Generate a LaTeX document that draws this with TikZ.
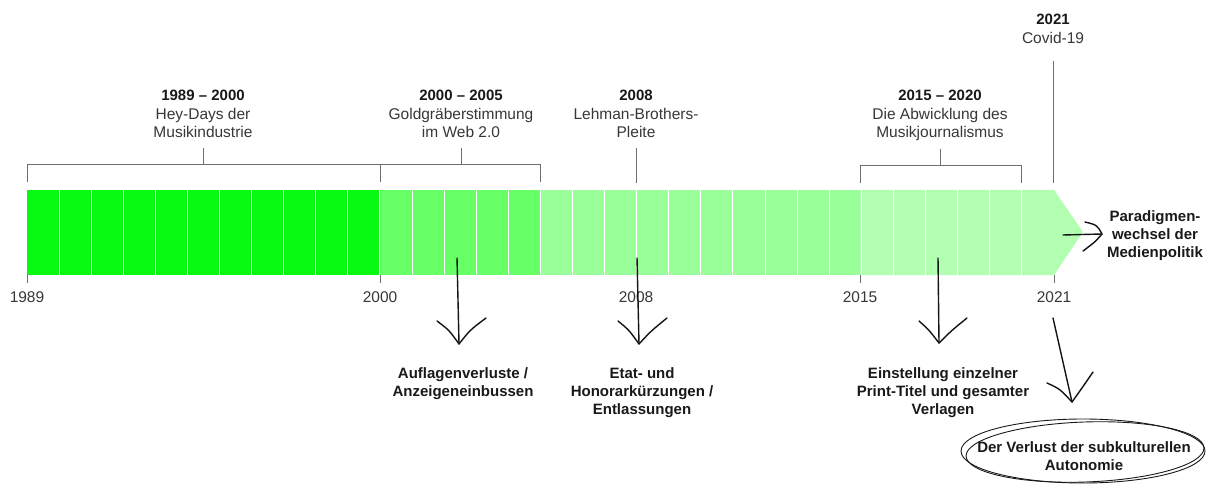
\documentclass[tikz,border=0pt]{standalone}
\usepackage{fontspec}
\setmainfont{Liberation Sans}
\definecolor{cA}{RGB}{8,250,18}
\definecolor{cB}{RGB}{102,255,102}
\definecolor{cC}{RGB}{153,255,153}
\definecolor{cD}{RGB}{178,255,178}
\definecolor{brkgray}{RGB}{110,110,110}
\definecolor{txtgray}{RGB}{55,55,55}
\definecolor{txtdark}{RGB}{25,25,25}
\begin{document}
\begin{tikzpicture}[x=1pt,y=-1pt,
  lbl/.style={font=\fontsize{15.5}{18}\selectfont, text=txtgray, align=center, inner sep=0pt, anchor=base},
  ttl/.style={font=\fontsize{15}{18}\selectfont\bfseries, text=txtdark, inner sep=0pt, anchor=base},
  blbl/.style={font=\fontsize{15}{18}\selectfont\bfseries, text=txtdark, align=center, inner sep=0pt, anchor=base},
  brk/.style={draw=brkgray, line width=1pt},
  hand/.style={draw=black!92, line width=1.4pt, line cap=round, line join=round},
  loop/.style={draw=black!90, line width=0.9pt},
]
\useasboundingbox (0,0) rectangle (1206,486);

% bar
\fill[cA] (27,190) rectangle (380,275);
\fill[cB] (380,190) rectangle (540.5,275);
\fill[cC] (540.5,190) rectangle (860,275);
\fill[cD] (860,190) -- (1054,190) -- (1083,232) -- (1054,275) -- (860,275) -- cycle;
\foreach \i in {1,...,31} \draw[white, line width=1pt] ({27+\i*32.09},190) -- ({27+\i*32.09},275);

% year labels below
\node[lbl] (y1989) at (27,302) {1989};
\node[lbl] (y2000) at (380,302) {2000};
\node[lbl] (y2008) at (636,302) {2008};
\node[lbl] (y2015) at (860,302) {2015};
\node[lbl] (y2021) at (1054,302) {2021};
\foreach \x in {27,380,860,1054} \draw[brk] (\x,275) -- (\x,283);

% top labels (base = baseline of last line)
\node[ttl] (t1) at (203,101) {1989 – 2000};
\node[lbl] (d1) at (203,138) {Hey-Days der\\Musikindustrie};
\node[ttl] (t2) at (461,101) {2000 – 2005};
\node[lbl] (d2) at (461,138) {Goldgräberstimmung\\im Web 2.0};
\node[ttl] (t3) at (636,101) {2008};
\node[lbl] (d3) at (636,138) {Lehman-Brothers-\\Pleite};
\node[ttl] (t4) at (940,101) {2015 – 2020};
\node[lbl] (d4) at (940,138) {Die Abwicklung des\\Musikjournalismus};
\node[ttl] (t5) at (1053,25) {2021};
\node[lbl] (d5) at (1053,44) {Covid-19};

% brackets
\coordinate (b1) at (203,148);
\coordinate (b2) at (461,148);
\coordinate (b3) at (636,148);
\coordinate (b4) at (940,149);
\coordinate (b5) at (1053,61);
\draw[brk] (27,182) -- (27,165) -- (380,165) -- (380,182);
\draw[brk] (b1) -- (203,165);
\draw[brk] (380,165) -- (540.5,165) -- (540.5,182);
\draw[brk] (b2) -- (461,165);
\draw[brk] (b3) -- (636,183);
\draw[brk] (860,183) -- (860,166) -- (1021,166) -- (1021,183);
\draw[brk] (b4) -- (940,166);
\draw[brk] (b5) -- (1053,183);

% bottom labels (base = baseline of last line)
\node[blbl] (l1) at (463,396) {Auflagenverluste /\\Anzeigeneinbussen};
\node[blbl] (l2) at (642,414) {Etat- und\\Honorarkürzungen /\\Entlassungen};
\node[blbl] (l3) at (943,414) {Einstellung einzelner\\Print-Titel und gesamter\\Verlagen};
\node[blbl] (l4) at (1084,470) {Der Verlust der subkulturellen\\Autonomie};
\node[blbl] (l5) at (1155,258) {Paradigmen-\\wechsel der\\Medienpolitik};

% hand-drawn arrows
\coordinate (a1s) at (457,258); \coordinate (a1e) at (459,344);
\coordinate (a2s) at (637,258); \coordinate (a2e) at (639,344);
\coordinate (a3s) at (938,258); \coordinate (a3e) at (939,343);
\coordinate (a4s) at (1053,318); \coordinate (a4e) at (1072,402);
\coordinate (a5s) at (1063,235); \coordinate (a5e) at (1102,234);

\draw[hand] (a1s) .. controls (458,300) .. (a1e);
\draw[hand] (437,321) .. controls (449,330) .. (a1e) .. controls (470,330) .. (486,318);
\draw[hand] (a2s) .. controls (638,300) .. (a2e);
\draw[hand] (618,321) .. controls (629,330) .. (a2e) .. controls (651,331) .. (667,318);
\draw[hand] (a3s) .. controls (938,300) .. (a3e);
\draw[hand] (919,321) .. controls (929,330) .. (a3e) .. controls (951,331) .. (967,318);
\draw[hand] (a4s) .. controls (1063,360) .. (a4e);
\draw[hand] (1047,383) .. controls (1060,389) .. (a4e) .. controls (1082,388) .. (1093,372);
\draw[hand] (a5s) -- (a5e);
\draw[hand] (1085,222) .. controls (1097,225) .. (a5e) .. controls (1095,242) .. (1083,251);

% hand-drawn ellipse around last label
\draw[loop] (1083,451) ellipse [x radius=122, y radius=32];
\draw[loop, rotate around={2:(1085,452)}] (1085,452) ellipse [x radius=119, y radius=30];
\end{tikzpicture}
\end{document}
